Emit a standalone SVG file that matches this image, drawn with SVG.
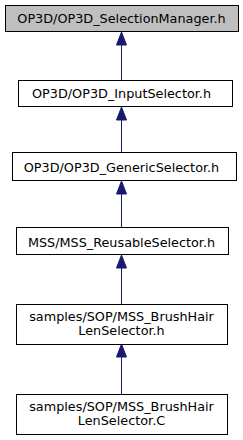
<svg xmlns="http://www.w3.org/2000/svg" width="243" height="440" viewBox="0 0 243 440">
<defs>
<style>
.box{fill:#ffffff;stroke:#000000;stroke-width:1}
.root{fill:#bfbfbf;stroke:#000000;stroke-width:1}
.edge{fill:none;stroke:#191970;stroke-width:1}
.head{fill:#191970;stroke:#191970;stroke-width:1}
text{font-family:"DejaVu Sans",sans-serif;font-size:12.8px;fill:#000000;text-anchor:middle}
</style>
</defs>
<rect width="243" height="440" fill="#ffffff"/>
<g id="connectors">
<path class="edge" d="M121.5,80 L121.5,45"/>
<polygon class="head" points="121.5,32 116.5,45 126.5,45"/>
<path class="edge" d="M121.5,152 L121.5,120"/>
<polygon class="head" points="121.5,107 116.5,120 126.5,120"/>
<path class="edge" d="M121.5,227 L121.5,194"/>
<polygon class="head" points="121.5,181 116.5,194 126.5,194"/>
<path class="edge" d="M121.5,304 L121.5,268"/>
<polygon class="head" points="121.5,255 116.5,268 126.5,268"/>
<path class="edge" d="M121.5,394 L121.5,357"/>
<polygon class="head" points="121.5,344 116.5,357 126.5,357"/>
</g>
<g id="node1">
<rect class="root" x="5.5" y="5.5" width="233" height="26"/>
<text x="121.5" y="23">OP3D/OP3D_SelectionManager.h</text>
</g>
<g id="node2">
<rect class="box" x="18.5" y="80.5" width="214" height="26"/>
<text x="121.5" y="98">OP3D/OP3D_InputSelector.h</text>
</g>
<g id="node3">
<rect class="box" x="12.5" y="152.5" width="224" height="28"/>
<text x="121.5" y="172">OP3D/OP3D_GenericSelector.h</text>
</g>
<g id="node4">
<rect class="box" x="16.5" y="227.5" width="212" height="27"/>
<text x="121.5" y="247">MSS/MSS_ReusableSelector.h</text>
</g>
<g id="node5">
<rect class="box" x="16.5" y="304.5" width="211" height="40"/>
<text x="121.5" y="321">samples/SOP/MSS_BrushHair</text>
<text x="121.5" y="335">LenSelector.h</text>
</g>
<g id="node6">
<rect class="box" x="16.5" y="394.5" width="211" height="40"/>
<text x="121.5" y="411">samples/SOP/MSS_BrushHair</text>
<text x="121.5" y="425">LenSelector.C</text>
</g>
</svg>
